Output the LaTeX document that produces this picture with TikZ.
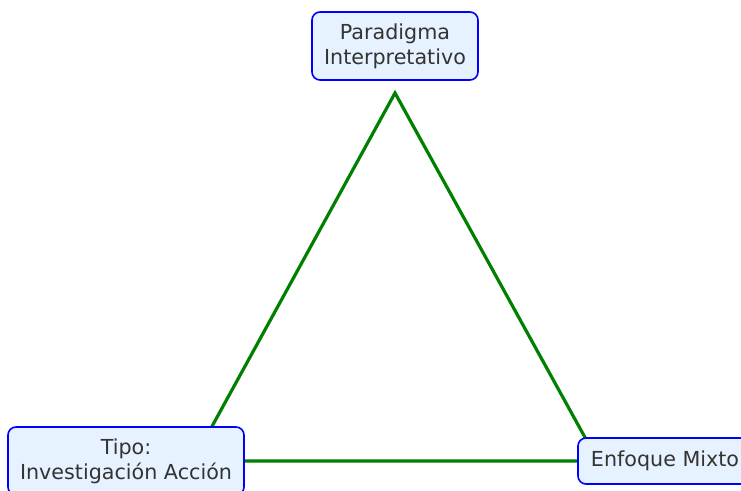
\documentclass[tikz,border=0pt]{standalone}
\usepackage{fontspec}
\setmainfont{DejaVu Sans}
\definecolor{boxfill}{HTML}{E6F2FF}
\definecolor{boxtext}{HTML}{333333}
\definecolor{linegreen}{HTML}{008000}
\begin{document}
\begin{tikzpicture}[x=0.75pt, y=-0.75pt,
    concept/.style={draw=blue, fill=boxfill, text=boxtext, line width=1.2pt, rounded corners=6pt, align=center, inner sep=0pt, font=\fontsize{15.5pt}{18.5pt}\selectfont},
    side/.style={draw=linegreen, line width=2.4pt}]
    \useasboundingbox (0,0) rectangle (741,491);
    \coordinate (top) at (395,93);
    \coordinate (left) at (193,461);
    \coordinate (right) at (598,461);
    \path[side] (top) -- (left) -- (right) -- cycle;
    \node[concept, minimum width=166*0.75pt, minimum height=68*0.75pt] (paradigma) at (395,46) {Paradigma\\Interpretativo};
    \node[concept, minimum width=236*0.75pt, minimum height=68*0.75pt] (tipo) at (126,461) {Tipo:\\Investigación Acción};
    \node[concept, minimum width=174*0.75pt, minimum height=46*0.75pt] (enfoque) at (665,461) {Enfoque Mixto};
\end{tikzpicture}
\end{document}
